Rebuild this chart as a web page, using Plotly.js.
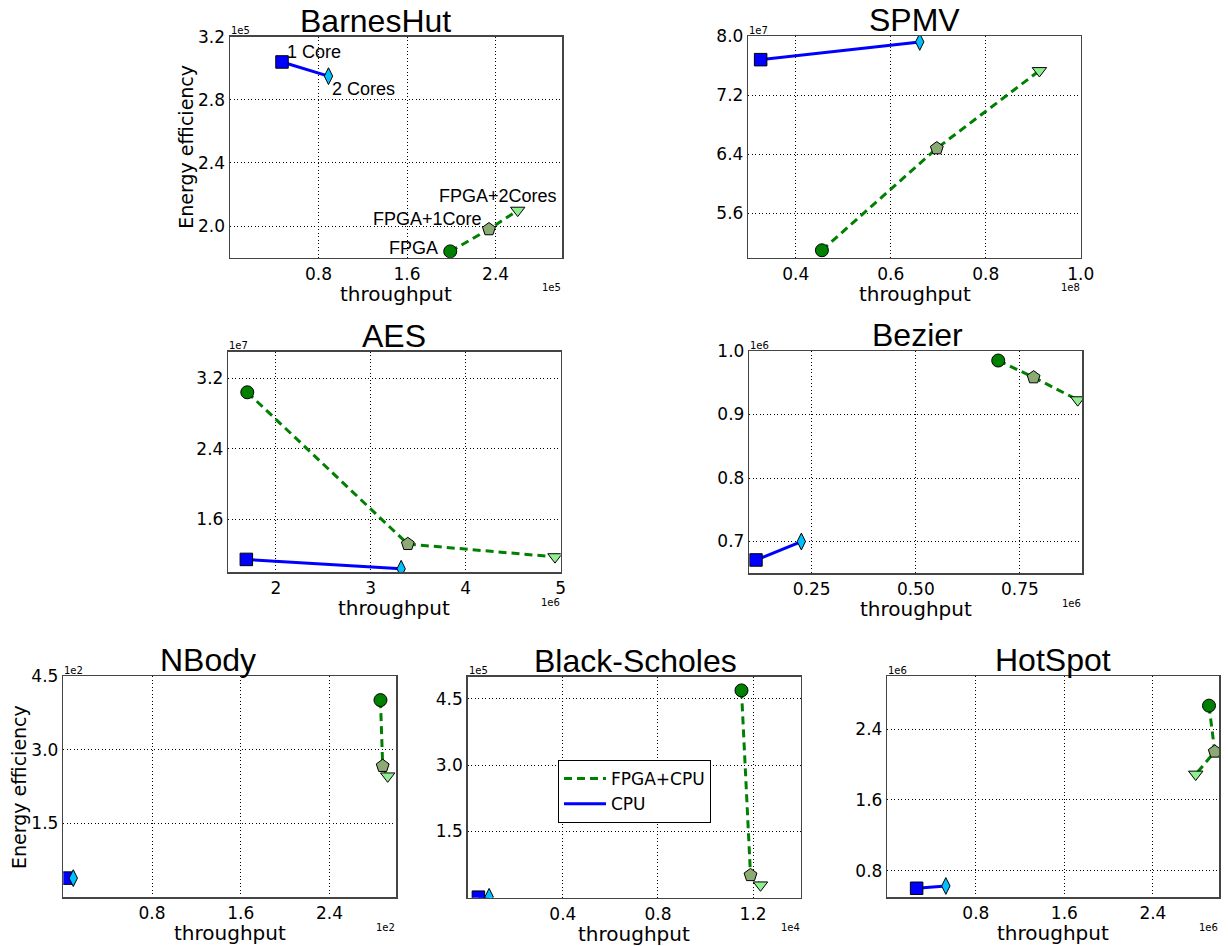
<!DOCTYPE html>
<html><head><meta charset="utf-8">
<script src="https://cdn.plot.ly/plotly-3.0.1.min.js"></script>
<style>html,body{margin:0;padding:0;background:#fff}#chart{width:1228px;height:946px}</style>
</head><body><div id="chart"></div>
<script>
// ---------- data ----------
const titles = ['BarnesHut', 'SPMV', 'AES', 'Bezier', 'NBody', 'Black-Scholes', 'HotSpot'];
const seriesNames = ['FPGA+CPU', 'CPU'];
const barnesLabels = ['1 Core', '2 Cores', 'FPGA', 'FPGA+1Core', 'FPGA+2Cores'];

const barnesCpuX = [0.47e5, 0.89e5];
const barnesCpuY = [3.04e5, 2.95e5];
const barnesFpgaX = [1.99e5, 2.34e5, 2.60e5];
const barnesFpgaY = [1.84e5, 1.98e5, 2.10e5];

const spmvCpuX = [0.326e8, 0.661e8];
const spmvCpuY = [7.68e7, 7.92e7];
const spmvFpgaX = [0.455e8, 0.697e8, 0.913e8];
const spmvFpgaY = [5.10e7, 6.48e7, 7.53e7];

const aesCpuX = [1.69e6, 3.32e6];
const aesCpuY = [1.146e7, 1.04e7];
const aesFpgaX = [1.70e6, 3.39e6, 4.94e6];
const aesFpgaY = [3.04e7, 1.32e7, 1.175e7];

const bezierCpuX = [0.116e6, 0.225e6];
const bezierCpuY = [0.671e6, 0.700e6];
const bezierFpgaX = [0.698e6, 0.783e6, 0.889e6];
const bezierFpgaY = [0.985e6, 0.9585e6, 0.923e6];

const nbodyCpuX = [0.04e2, 0.09e2];
const nbodyCpuY = [0.39e2, 0.39e2];
const nbodyFpgaX = [2.86e2, 2.88e2, 2.925e2];
const nbodyFpgaY = [4.01e2, 2.67e2, 2.465e2];

const bsCpuX = [0.045e4, 0.09e4];
const bsCpuY = [0.012e5, 0.02e5];
const bsFpgaX = [1.151e4, 1.189e4, 1.231e4];
const bsFpgaY = [4.69e5, 0.51e5, 0.286e5];

const hotCpuX = [0.265e6, 0.529e6];
const hotCpuY = [0.602e6, 0.628e6];
const hotFpgaX = [2.907e6, 2.959e6, 2.787e6];
const hotFpgaY = [2.665e6, 2.145e6, 1.89e6];

// tick labels (mantissa) and exponent of offset text
const xTickLabels = [['0.8','1.6','2.4'], ['0.4','0.6','0.8','1.0'], ['2','3','4','5'], ['0.25','0.50','0.75'], ['0.8','1.6','2.4'], ['0.4','0.8','1.2'], ['0.8','1.6','2.4']];
const yTickLabels = [['2.0','2.4','2.8','3.2'], ['5.6','6.4','7.2','8.0'], ['1.6','2.4','3.2'], ['0.7','0.8','0.9','1.0'], ['1.5','3.0','4.5'], ['1.5','3.0','4.5'], ['0.8','1.6','2.4']];
const xExp = [5, 8, 6, 6, 2, 4, 6];
const yExp = [5, 7, 7, 6, 2, 5, 6];

const cpuX = [barnesCpuX, spmvCpuX, aesCpuX, bezierCpuX, nbodyCpuX, bsCpuX, hotCpuX];
const cpuY = [barnesCpuY, spmvCpuY, aesCpuY, bezierCpuY, nbodyCpuY, bsCpuY, hotCpuY];
const fpgaX = [barnesFpgaX, spmvFpgaX, aesFpgaX, bezierFpgaX, nbodyFpgaX, bsFpgaX, hotFpgaX];
const fpgaY = [barnesFpgaY, spmvFpgaY, aesFpgaY, bezierFpgaY, nbodyFpgaY, bsFpgaY, hotFpgaY];

// ---------- layout geometry ----------
const W = 1228, H = 946;
// axes boxes in pixels: [left, right, top, bottom]
const boxes = [
  [230, 562, 36.7, 257.7],
  [748.3, 1080.7, 36, 257.7],
  [228.3, 560.7, 351.7, 572.3],
  [749.3, 1082.3, 351, 573.3],
  [63.3, 396, 676, 897.3],
  [467.7, 800.7, 676.7, 897.7],
  [887.3, 1219.3, 676, 897.3]
];
const xRanges = [[0, 3.0e5], [0.3e8, 1.0e8], [1.5e6, 5e6], [0.1e6, 0.9e6], [0, 3.0e2], [0, 1.4e4], [0, 3.0e6]];
const yRanges = [[1.8e5, 3.2e5], [5.0e7, 8.0e7], [1.0e7, 3.5e7], [0.65e6, 1.0e6], [0, 4.5e2], [0, 5.0e5], [0.5e6, 3.0e6]];
const titleX = [375.5, 914.5, 394, 917, 207.5, 635.5, 1053];
const legendChart = 5;

const px = v => v / W;
const py = v => 1 - v / H;

const tickFont = {family: 'DejaVu Sans', size: 17, color: '#000'};
const data = [];
const annotations = [];
const layout = {
  width: W, height: H,
  margin: {l: 0, r: 0, t: 0, b: 0},
  paper_bgcolor: '#fff', plot_bgcolor: '#fff',
  showlegend: true,
  legend: {
    x: px(558), y: py(760), xanchor: 'left', yanchor: 'top',
    bordercolor: '#000', borderwidth: 1, bgcolor: '#fff',
    font: {family: 'DejaVu Sans', size: 17, color: '#000'},
    traceorder: 'normal', itemwidth: 42, tracegroupgap: 0
  },
  annotations: annotations
};

for (let i = 0; i < 7; i++) {
  const k = i === 0 ? '' : String(i + 1);
  const xa = 'x' + k, ya = 'y' + k;
  const [l, r, t, b] = boxes[i];
  const xs = Math.pow(10, xExp[i]), ys = Math.pow(10, yExp[i]);
  const axBase = {
    showline: true, mirror: true, linecolor: '#444', linewidth: 1.5,
    showgrid: true, gridcolor: '#000', gridwidth: 1, griddash: '1px,2.5px',
    zeroline: false, ticks: '', tickfont: tickFont, fixedrange: true
  };
  layout['xaxis' + k] = Object.assign({}, axBase, {
    domain: [px(l), px(r)], anchor: ya, range: xRanges[i],
    tickmode: 'array',
    tickvals: xTickLabels[i].map(s => parseFloat(s) * xs),
    ticktext: xTickLabels[i]
  });
  layout['yaxis' + k] = Object.assign({}, axBase, {
    domain: [py(b), py(t)], anchor: xa, range: yRanges[i],
    tickmode: 'array',
    tickvals: yTickLabels[i].map(s => parseFloat(s) * ys),
    ticktext: yTickLabels[i]
  });

  // lines
  data.push({
    x: fpgaX[i], y: fpgaY[i], xaxis: xa, yaxis: ya, mode: 'lines',
    line: {color: '#008000', width: 3, dash: '8px,5px'},
    name: seriesNames[0], showlegend: i === legendChart, legendrank: 1
  });
  data.push({
    x: cpuX[i], y: cpuY[i], xaxis: xa, yaxis: ya, mode: 'lines',
    line: {color: '#0000ff', width: 3},
    name: seriesNames[1], showlegend: i === legendChart, legendrank: 2
  });
  // markers
  data.push({
    x: fpgaX[i], y: fpgaY[i], xaxis: xa, yaxis: ya, mode: 'markers', showlegend: false,
    marker: {symbol: ['circle', 'pentagon', 'triangle-down'], size: [13, 13.5, 12.5], opacity: 1,
      color: ['#008000', '#8caa73', '#90ee90'], line: {color: '#000', width: 1}}
  });
  data.push({
    x: cpuX[i], y: cpuY[i], xaxis: xa, yaxis: ya, mode: 'markers', showlegend: false,
    marker: {symbol: ['square', 'diamond-tall'], size: [12.5, 12], opacity: 1,
      color: ['#0000ff', '#00bfff'], line: {color: '#000', width: 1}}
  });

  // title
  annotations.push({
    text: titles[i], xref: 'paper', yref: 'paper', x: px(titleX[i]), y: py(t - 16),
    xanchor: 'center', yanchor: 'middle', showarrow: false,
    font: {family: 'Liberation Sans, Arial', size: 32, color: '#000'}
  });
  // x label
  annotations.push({
    text: 'throughput', xref: 'paper', yref: 'paper', x: px((l + r) / 2), y: py(b + 36),
    xanchor: 'center', yanchor: 'middle', showarrow: false,
    font: {family: 'DejaVu Sans', size: 20, color: '#000'}
  });
  // offset texts
  annotations.push({
    text: '1e' + yExp[i], xref: 'paper', yref: 'paper', x: px(l - 1), y: py(t - 6),
    xanchor: 'left', yanchor: 'middle', showarrow: false,
    font: {family: 'DejaVu Sans', size: 10, color: '#000'}
  });
  annotations.push({
    text: '1e' + xExp[i], xref: 'paper', yref: 'paper', x: px(r + 1), y: py(b + 30),
    xanchor: 'right', yanchor: 'middle', showarrow: false,
    font: {family: 'DejaVu Sans', size: 10, color: '#000'}
  });
}

// y labels
[[0, 186.5], [4, 18.3]].forEach(([i, xpos]) => {
  const [l, r, t, b] = boxes[i];
  annotations.push({
    text: 'Energy efficiency', xref: 'paper', yref: 'paper', x: px(xpos), y: py((t + b) / 2),
    xanchor: 'center', yanchor: 'middle', textangle: -90, showarrow: false,
    font: {family: 'DejaVu Sans', size: 19, color: '#000'}
  });
});

// BarnesHut point labels
const lblFont = {family: 'Liberation Sans, Arial', size: 18, color: '#000'};
const lblPos = [
  [0.50e5, 3.10e5, 'left'],
  [0.90e5, 2.871e5, 'left'],
  [1.896e5, 1.863e5, 'right'],
  [2.294e5, 2.042e5, 'right'],
  [2.974e5, 2.189e5, 'right']
];
barnesLabels.forEach((txt, j) => {
  annotations.push({
    text: txt, xref: 'x', yref: 'y', x: lblPos[j][0], y: lblPos[j][1],
    xanchor: lblPos[j][2], yanchor: 'middle', showarrow: false, font: lblFont
  });
});

Plotly.newPlot('chart', data, layout, {staticPlot: true, displayModeBar: false});
</script>
</body></html>
